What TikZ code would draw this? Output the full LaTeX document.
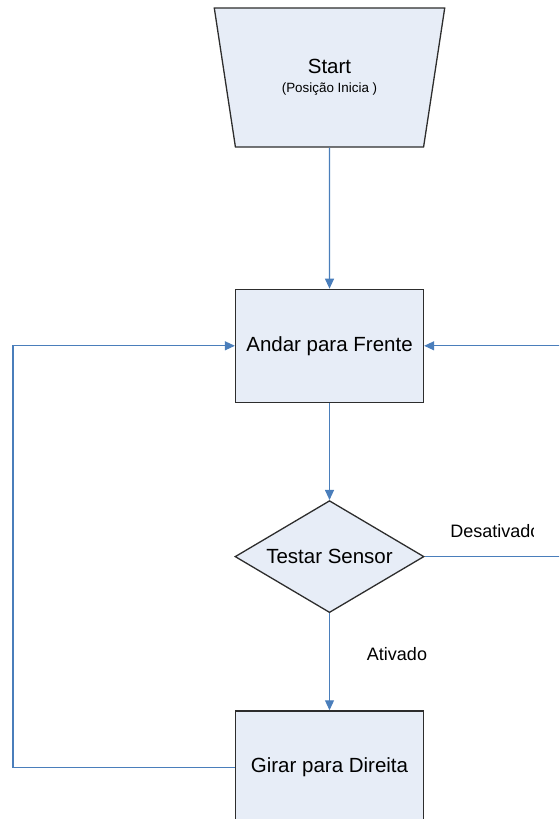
\documentclass[tikz,border=0pt]{standalone}
\usepackage{fontspec}
\setmainfont{Liberation Sans}
\usetikzlibrary{arrows.meta, positioning, shapes.geometric}
\definecolor{FlowBlue}{RGB}{74,126,187}
\definecolor{BoxFill}{RGB}{231,237,247}
\definecolor{BoxLine}{RGB}{45,45,45}

\begin{document}
\begin{tikzpicture}[
    flow/.style={-{Triangle[length=5pt, width=4.5pt]}, line width=0.55pt, FlowBlue},
    blk/.style={draw=BoxLine, line width=0.65pt, fill=BoxFill, inner sep=0pt, align=center,
        font=\fontsize{10.25}{12}\selectfont},
    proc/.style={blk, rectangle, minimum width=94pt, minimum height=56.5pt},
    lbl/.style={font=\fontsize{9}{11}\selectfont, inner sep=0pt},
]
\useasboundingbox (0,0) rectangle (279.5pt,-409.5pt);
\clip (0,0) rectangle (279.5pt,-409.5pt);

% ---- inicio ----
\node[blk, trapezium, trapezium stretches=true, shape border rotate=180,
      trapezium left angle=73.5, trapezium right angle=73.5,
      minimum width=115.5pt, minimum height=69.5pt] (start) at (164.75pt,-38.75pt)
    {Start\\[-2.5pt]\fontsize{6.7}{8}\selectfont (Posição Inicia )};

% ---- blocos ----
\node[proc, below=70.5pt of start] (andar) {Andar para Frente};
\node[blk, diamond, aspect=1.69, minimum width=94.5pt, minimum height=56pt,
      below=48.5pt of andar] (sensor) {Testar Sensor};
\node[proc, below=48.5pt of sensor] (girar) {Girar para Direita};

\draw[flow] (start) -- (andar);
\draw[flow] (andar) -- (sensor);
\draw[flow] (sensor) -- (girar);

% ---- retornos ----
\coordinate (dir) at (281pt,0);
\coordinate (esq) at (6.5pt,0);
\draw[flow] (sensor.east) -| (dir |- andar.east) -- (andar.east);
\draw[flow] (girar.west) -| (esq |- andar.west) -- (andar.west);

% rotulos
\begin{scope}
  \clip (0,0) rectangle (266.5pt,-409.5pt);
  \node[lbl, anchor=west] (desat) at (225pt,-265.5pt) {Desativado};
\end{scope}
\node[lbl] (ativ) at (198.5pt,-327pt) {Ativado};

\end{tikzpicture}
\end{document}
